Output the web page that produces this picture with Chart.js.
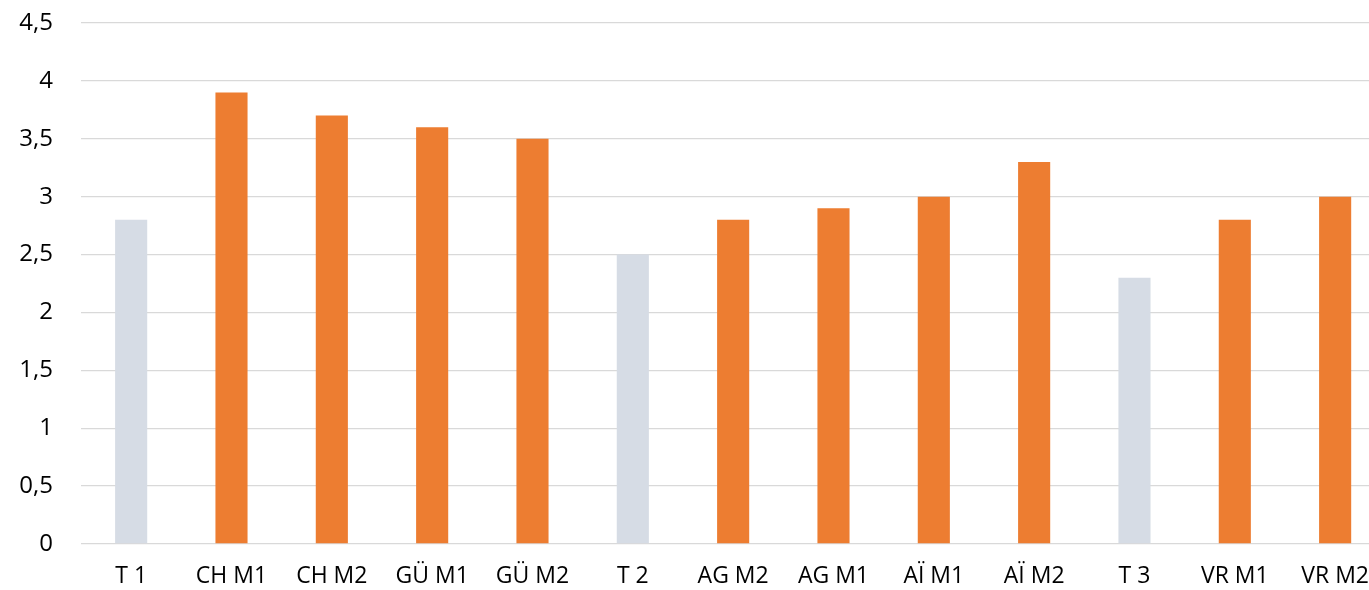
<!DOCTYPE html>
<html>
<head>
<meta charset="utf-8">
<script src="https://cdn.jsdelivr.net/npm/chart.js@4.4.1/dist/chart.umd.min.js"></script>
<style>
  html, body { margin: 0; padding: 0; background: #fff; overflow: hidden; }
  #wrap { width: 1388px; height: 590px; position: relative; }
</style>
</head>
<body>
<div id="wrap"><canvas id="c"></canvas></div>
<script>
// Scores per test (T) and measurement (M) group
const categories = ['T 1', 'CH M1', 'CH M2', 'GÜ M1', 'GÜ M2', 'T 2', 'AG M2', 'AG M1', 'AÏ M1', 'AÏ M2', 'T 3', 'VR M1', 'VR M2'];
const scores = [2.8, 3.9, 3.7, 3.6, 3.5, 2.5, 2.8, 2.9, 3.0, 3.3, 2.3, 2.8, 3.0];
const yTicks = [0, 0.5, 1, 1.5, 2, 2.5, 3, 3.5, 4, 4.5];

const testColor = '#D6DCE5';
const groupColor = '#ED7D31';
const barColors = categories.map(c => c.startsWith('T ') ? testColor : groupColor);

const fontFamily = '"Open Sans", "Noto Sans", sans-serif';

new Chart(document.getElementById('c'), {
  type: 'bar',
  data: {
    labels: categories,
    datasets: [{
      data: scores,
      backgroundColor: barColors,
      borderWidth: 0,
      categoryPercentage: 1,
      barPercentage: 0.32
    }]
  },
  options: {
    responsive: true,
    maintainAspectRatio: false,
    animation: false,
    layout: { padding: { top: 23, right: 0, left: 0, bottom: 0 } },
    plugins: { legend: { display: false }, tooltip: { enabled: false } },
    scales: {
      x: {
        grid: { display: false, drawTicks: false },
        border: { display: false },
        ticks: {
          color: '#000',
          font: { family: fontFamily, size: 23 },
          padding: 19,
          maxRotation: 0,
          autoSkip: false
        },
        afterFit: s => { s.height = 46; }
      },
      y: {
        min: 0,
        max: 4.5,
        afterBuildTicks: s => { s.ticks = yTicks.map(v => ({ value: v })); },
        grid: { color: '#D9D9D9', lineWidth: 1.3, drawTicks: false },
        border: { display: false },
        ticks: {
          color: '#000',
          font: { family: fontFamily, size: 24 },
          padding: 28,
          callback: v => String(v).replace('.', ',')
        },
        afterFit: s => {
          s.width = 81;
          s.paddingTop = 0;
          s.paddingBottom = 0;
        }
      }
    }
  }
});
</script>
</body>
</html>
